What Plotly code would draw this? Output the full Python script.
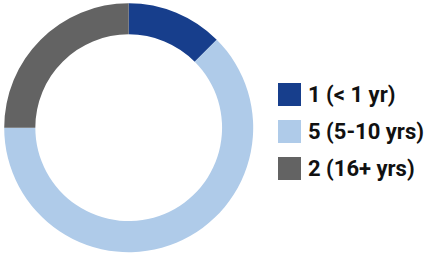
import plotly.graph_objects as go

labels = ["1 (< 1 yr)", "5 (5-10 yrs)", "2 (16+ yrs)"]
values = [1, 5, 2]
colors = ["#173E8C", "#AFCBE9", "#636363"]

W, H = 425, 256
fig = go.Figure(go.Pie(
    labels=labels, values=values, hole=0.75, sort=False, direction="clockwise",
    rotation=0, marker=dict(colors=colors, line=dict(width=0)),
    textinfo="none", hoverinfo="label", showlegend=False,
    domain=dict(x=[4.2 / W, 253.2 / W], y=[1 - 252.4 / H, 1 - 3.0 / H]),
))

shapes = []
annotations = []
sq_x0, sq_size = 278, 23
row_tops = [83, 120, 157]
for lab, col, top in zip(labels, colors, row_tops):
    shapes.append(dict(type="rect", xref="paper", yref="paper",
                       x0=sq_x0 / W, x1=(sq_x0 + sq_size) / W,
                       y0=1 - (top + sq_size) / H, y1=1 - top / H,
                       fillcolor=col, line=dict(width=0)))
    annotations.append(dict(xref="paper", yref="paper", x=306 / W,
                            y=1 - (top + sq_size / 2) / H, xanchor="left",
                            yanchor="middle", showarrow=False, text="<b>" + lab + "</b>",
                            font=dict(family="Roboto", size=22, color="#111111")))

fig.update_layout(width=W, height=H, margin=dict(l=0, r=0, t=0, b=0),
                  paper_bgcolor="white", plot_bgcolor="white",
                  shapes=shapes, annotations=annotations)
fig.write_html("out.html")
